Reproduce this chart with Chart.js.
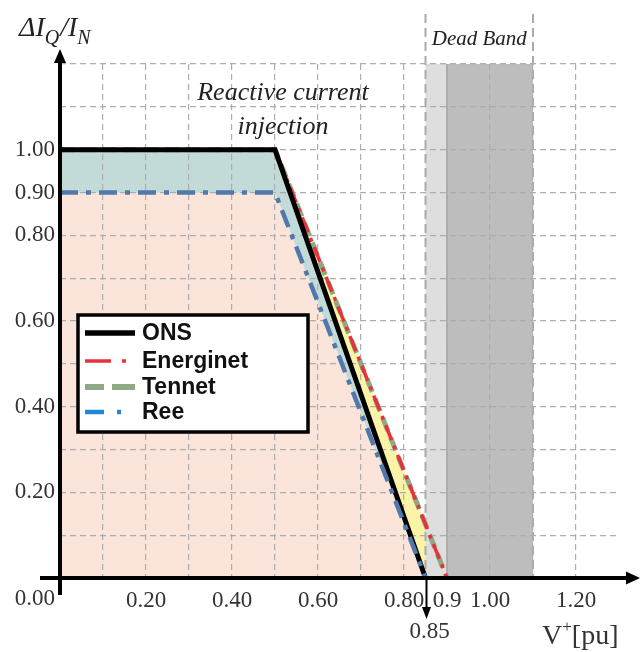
<!DOCTYPE html>
<html>
<head>
<meta charset="utf-8">
<script src="https://cdn.jsdelivr.net/npm/chart.js@4/dist/chart.umd.min.js"></script>
<style>
  html, body { margin: 0; padding: 0; background: #ffffff; }
  #wrap { width: 640px; height: 652px; }
</style>
</head>
<body>
<div id="wrap"><canvas id="c" width="640" height="652"></canvas></div>
<script>
// ---- data ----
const seriesNames = ['ONS', 'Energinet', 'Tennet', 'Ree'];
const onsV = [0.00, 0.50, 0.85];
const onsI = [1.00, 1.00, 0.00];
const energinetV = [0.00, 0.50, 0.90];
const energinetI = [1.00, 1.00, 0.00];
const tennetV = [0.00, 0.50, 0.90];
const tennetI = [1.00, 1.00, 0.00];
const reeV = [0.00, 0.50, 0.85];
const reeI = [0.90, 0.90, 0.00];
const deadBand = [0.85, 0.90, 1.10];          // light part start, dark part start, end
const xGridValues = [0, 0.1, 0.2, 0.3, 0.4, 0.5, 0.6, 0.7, 0.8, 0.9, 1.0, 1.1, 1.2, 1.3];
const yGridValues = [0, 0.1, 0.2, 0.3, 0.4, 0.5, 0.6, 0.7, 0.8, 0.9, 1.0, 1.1, 1.2];
const xTickValues = [0.2, 0.4, 0.6, 0.8, 0.9, 1.0, 1.2];
const xTickLabels = ['0.20', '0.40', '0.60', '0.80', '0.9', '1.00', '1.20'];
const yTickValues = [0.2, 0.4, 0.6, 0.8, 0.9, 1.0];
const yTickLabels = ['0.20', '0.40', '0.60', '0.80', '0.90', '1.00'];
const originLabel = '0.00';
const markerValue = 0.85;
const markerLabel = '0.85';

// ---- styles ----
const SERIF = '"Liberation Serif", "DejaVu Serif", serif';
const SANS = '"Liberation Sans", Arial, sans-serif';
const pts = (xs, ys) => xs.map((v, i) => ({ x: v, y: ys[i] }));
const findLabel = (vals, labels, v) => {
  const i = vals.findIndex(t => Math.abs(t - v) < 1e-6);
  return i >= 0 ? labels[i] : '';
};

const legendItems = [
  { name: seriesNames[0], color: '#000000', width: 5.5, dash: [] , len: 50},
  { name: seriesNames[1], color: '#e8313a', width: 3.5, dash: [26, 11, 4, 100], len: 44},
  { name: seriesNames[2], color: '#8da985', width: 6, dash: [19, 8, 23, 100], len: 50},
  { name: seriesNames[3], color: '#2188d2', width: 4.5, dash: [19, 13, 4, 100], len: 40}
];

const decor = {
  id: 'decor',
  beforeDraw(chart) {
    // dead band, drawn over the fills (filler runs first) and under the grid
    const { ctx, chartArea: a, scales: { x } } = chart;
    const x0 = x.getPixelForValue(deadBand[0]);
    const x1 = x.getPixelForValue(deadBand[1]);
    const x2 = x.getPixelForValue(deadBand[2]);
    ctx.save();
    ctx.fillStyle = '#dedede';
    ctx.fillRect(x0, a.top, x1 - x0, a.bottom - a.top);
    ctx.fillStyle = '#bdbdbd';
    ctx.fillRect(x1, a.top, x2 - x1, a.bottom - a.top);
    ctx.strokeStyle = '#a5a5a5';
    ctx.lineWidth = 1.5;
    ctx.beginPath(); ctx.moveTo(x1, a.top); ctx.lineTo(x1, a.bottom); ctx.stroke();
    ctx.strokeStyle = '#aaaaaa';
    ctx.lineWidth = 2;
    ctx.setLineDash([9, 5]);
    [x0, x2].forEach(px => {
      ctx.beginPath(); ctx.moveTo(px, 14); ctx.lineTo(px, a.bottom); ctx.stroke();
    });
    ctx.restore();
  },
  afterDraw(chart) {
    const { ctx, chartArea: a, scales: { x, y } } = chart;
    const ox = x.getPixelForValue(0), oy = y.getPixelForValue(0);
    ctx.save();
    ctx.setLineDash([]);
    ctx.fillStyle = '#000';
    ctx.strokeStyle = '#000';
    // x axis with arrow
    ctx.lineWidth = 4;
    ctx.beginPath(); ctx.moveTo(40, oy); ctx.lineTo(628, oy); ctx.stroke();
    ctx.beginPath(); ctx.moveTo(640, oy); ctx.lineTo(626, oy - 6.5); ctx.lineTo(626, oy + 6.5); ctx.closePath(); ctx.fill();
    // y axis with arrow
    ctx.beginPath(); ctx.moveTo(ox, 595); ctx.lineTo(ox, 62); ctx.stroke();
    ctx.beginPath(); ctx.moveTo(ox, 49); ctx.lineTo(ox - 6, 63); ctx.lineTo(ox + 6, 63); ctx.closePath(); ctx.fill();
    // 0.85 marker arrow
    const mx = x.getPixelForValue(markerValue) + 1;
    ctx.lineWidth = 2;
    ctx.beginPath(); ctx.moveTo(mx, oy); ctx.lineTo(mx, 610); ctx.stroke();
    ctx.beginPath(); ctx.moveTo(mx, 619); ctx.lineTo(mx - 4.5, 607); ctx.lineTo(mx + 4.5, 607); ctx.closePath(); ctx.fill();

    // texts
    ctx.fillStyle = '#333333';
    ctx.font = '23px ' + SERIF;
    ctx.textBaseline = 'middle';
    ctx.textAlign = 'right';
    ctx.fillText(originLabel, ox - 5, oy + 21);
    ctx.textAlign = 'center';
    ctx.fillText(markerLabel, mx + 3, 632);

    // x title  V+[pu]
    ctx.fillStyle = '#333333';
    ctx.textAlign = 'left';
    ctx.textBaseline = 'alphabetic';
    ctx.font = '28px ' + SERIF;
    let tx = 542;
    ctx.fillText('V', tx, 644); tx += ctx.measureText('V').width;
    ctx.font = '17px ' + SERIF;
    ctx.fillText('+', tx, 632); tx += ctx.measureText('+').width;
    ctx.font = '28px ' + SERIF;
    ctx.fillText('[pu]', tx, 644);

    // y title  ΔI_Q / I_N
    ctx.fillStyle = '#222222';
    let ty = 19;
    ctx.font = 'italic 28px ' + SERIF;
    ctx.fillText('\u0394I', ty, 36); ty += ctx.measureText('\u0394I').width;
    ctx.font = 'italic 20px ' + SERIF;
    ctx.fillText('Q', ty, 44); ty += ctx.measureText('Q').width + 1;
    ctx.font = 'italic 28px ' + SERIF;
    ctx.fillText('/I', ty, 36); ty += ctx.measureText('/I').width;
    ctx.font = 'italic 20px ' + SERIF;
    ctx.fillText('N', ty, 44);

    // annotations
    ctx.fillStyle = '#222222';
    ctx.textAlign = 'center';
    ctx.textBaseline = 'middle';
    ctx.font = 'italic 26px ' + SERIF;
    ctx.fillText('Reactive current', 283, 93);
    ctx.fillText('injection', 283, 127);
    const dbx = (x.getPixelForValue(deadBand[0]) + x.getPixelForValue(deadBand[2])) / 2;
    ctx.font = 'italic 21px ' + SERIF;
    ctx.fillText('Dead Band', dbx, 39);

    // legend box
    ctx.fillStyle = '#ffffff';
    ctx.fillRect(78, 315, 230, 117);
    ctx.strokeStyle = '#000';
    ctx.lineWidth = 3.5;
    ctx.strokeRect(78, 315, 230, 117);
    const rows = [333, 361, 387, 412];
    legendItems.forEach((it, i) => {
      const ry = rows[i];
      ctx.strokeStyle = it.color;
      ctx.lineWidth = it.width;
      ctx.lineCap = 'butt';
      ctx.setLineDash(it.dash);
      ctx.beginPath(); ctx.moveTo(85, ry); ctx.lineTo(85 + it.len, ry); ctx.stroke();
      ctx.setLineDash([]);
      ctx.fillStyle = '#111';
      ctx.font = 'bold 23px ' + SANS;
      ctx.textAlign = 'left';
      ctx.textBaseline = 'middle';
      ctx.fillText(it.name, 142, ry + 1);
    });
    ctx.restore();
  }
};

const chart = new Chart(document.getElementById('c'), {
  type: 'line',
  data: {
    datasets: [
      { label: seriesNames[3], data: pts(reeV, reeI), borderColor: '#5078aa', borderWidth: 4.5,
        borderDash: [18, 8, 5, 8], fill: 'origin', backgroundColor: '#fbe4da' },
      { label: seriesNames[0], data: pts(onsV, onsI), borderColor: '#000000', borderWidth: 5,
        fill: 'origin', backgroundColor: '#c2dbd8' },
      { label: seriesNames[1], data: pts(energinetV, energinetI), borderColor: '#e8313a', borderWidth: 3.5,
        borderDash: [16, 6, 4, 6], fill: 'origin', backgroundColor: '#fbf3a8' },
      { label: seriesNames[2], data: pts(tennetV, tennetI), borderColor: '#8da985', borderWidth: 5,
        borderDash: [14, 7], fill: false }
    ]
  },
  options: {
    responsive: false,
    animation: false,
    devicePixelRatio: 1,
    layout: { padding: { left: 0, top: 64, right: 21, bottom: 0 } },
    elements: { point: { radius: 0 }, line: { tension: 0, borderCapStyle: 'butt', borderJoinStyle: 'miter' } },
    plugins: {
      legend: { display: false },
      tooltip: { enabled: false },
      filler: { drawTime: 'beforeDraw' }
    },
    scales: {
      x: {
        type: 'linear', min: 0, max: 1.3,
        afterBuildTicks: s => { s.ticks = xGridValues.map(v => ({ value: v })); },
        afterFit: s => { s.height = 74; },
        grid: {
          drawTicks: false, lineWidth: 1.2,
          color: c => (c.tick && (c.tick.value < 0.001 || c.tick.value > 1.299)) ? 'rgba(0,0,0,0)' : '#adadad'
        },
        border: { display: false, dash: [6, 4] },
        ticks: {
          autoSkip: false, maxRotation: 0, minRotation: 0, padding: 9,
          color: '#333333', font: { family: SERIF, size: 23 },
          callback: v => findLabel(xTickValues, xTickLabels, v)
        }
      },
      y: {
        type: 'linear', min: 0, max: 1.2,
        afterBuildTicks: s => { s.ticks = yGridValues.map(v => ({ value: v })); },
        afterFit: s => { s.width = 60; },
        grid: {
          drawTicks: false, lineWidth: 1.2,
          color: c => (c.tick && c.tick.value < 0.001) ? 'rgba(0,0,0,0)' : '#adadad'
        },
        border: { display: false, dash: [6, 4] },
        ticks: {
          autoSkip: false, padding: 5,
          color: '#333333', font: { family: SERIF, size: 23 },
          callback: v => findLabel(yTickValues, yTickLabels, v)
        }
      }
    }
  },
  plugins: [decor]
});
</script>
</body>
</html>
